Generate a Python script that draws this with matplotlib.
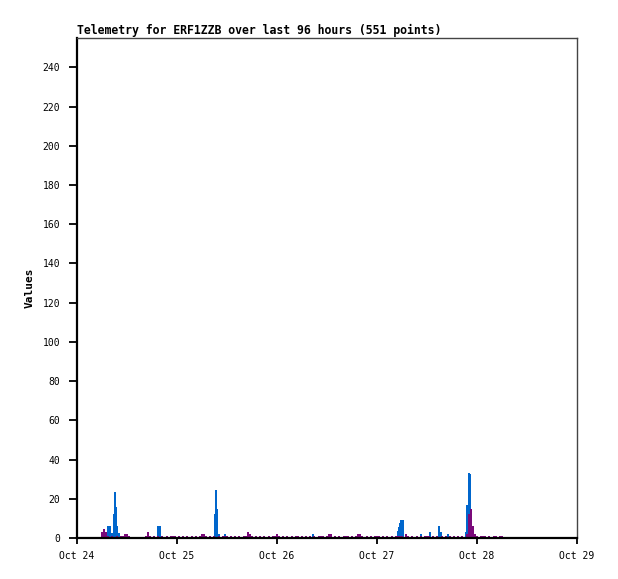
import datetime as dt
import matplotlib
matplotlib.use("Agg")
import matplotlib.pyplot as plt
import matplotlib.dates as mdates

# ---------------- data ----------------
title = "Telemetry for ERF1ZZB over last 96 hours (551 points)"
ylabel = "Values"
start_day = dt.datetime(2024, 10, 24)

# blue series: hours after Oct 24 00:00 and values
blue_hours = [7.44, 7.92, 8.3, 8.88, 9.12, 9.36, 9.72, 10.08, 19.44, 19.92,
              33.12, 33.36, 33.6, 33.96, 35.52, 56.64, 77.04, 77.28, 77.52,
              77.76, 78.12, 82.56, 84.72, 86.88, 87.36, 89.04, 93.36, 93.6,
              93.96, 94.32, 94.6]
blue_vals = [6, 6, 2.5, 12, 23.6, 16, 6, 2.5, 6, 6,
             12, 24.5, 15, 2, 2, 2, 3.5, 5.5, 7.5,
             9, 9, 2, 3, 6, 3, 2, 3, 17,
             33.3, 32.7, 5]

# purple series: half-hourly from Oct 24 06:00
purple_start_hour = 6.0
purple_step_hours = 0.5
purple_vals = [
    3, 4.5, 3, 1, 0, 1, 0, 1, 0, 1, 1, 2, 2, 1, 0, 0, 0, 0, 0, 0, 0, 1, 3, 1,
    0, 1, 0, 1, 0, 1, 0, 1, 0, 1, 1, 1, 0, 1, 0, 1, 0, 1, 0, 1, 0, 1, 0, 1,
    2, 2, 1, 0, 1, 0, 1, 0, 1, 0, 1, 1, 1, 0, 1, 0, 1, 0, 1, 0, 1, 1, 3, 2,
    1, 0, 1, 0, 1, 0, 1, 0, 1, 0, 1, 1, 2, 1, 0, 1, 0, 1, 0, 1, 0, 1, 1, 0,
    1, 0, 1, 0, 1, 0, 1, 0, 1, 1, 1, 0, 1, 2, 2, 0, 1, 0, 1, 0, 1, 1, 1, 0,
    1, 0, 1, 2, 2, 1, 0, 1, 0, 1, 0, 1, 1, 1, 0, 1, 0, 1, 0, 1, 0, 1, 1, 1,
    1, 0, 2, 1, 0, 1, 0, 1, 0, 1, 0, 1, 1, 1, 0, 1, 0, 1, 0, 1, 0, 1, 0, 1,
    0, 1, 0, 1, 0, 1, 0, 2, 12, 15, 6, 2, 1, 0, 1, 1, 1, 0, 1, 0, 1, 1, 0, 1,
    1,
]

yticks = list(range(0, 241, 20))
ymax = 255

# ---------------- plot ----------------
BLUE = "#0066cc"
PURPLE = "#7a0a7a"

fig = plt.figure(figsize=(6.18, 5.79), dpi=100)
ax = fig.add_axes([77 / 618, 41 / 579, 500 / 618, 500 / 579])

base = mdates.date2num(start_day)
bx = [base + h / 24.0 for h in blue_hours]
px = [base + (purple_start_hour + i * purple_step_hours) / 24.0
      for i in range(len(purple_vals))]

bar_w = 0.02
ax.bar(bx, blue_vals, width=bar_w, color=BLUE, linewidth=0,
       antialiased=False, zorder=2)
ax.bar(px, purple_vals, width=bar_w, color=PURPLE, linewidth=0,
       antialiased=False, zorder=3)

ax.set_xlim(base, base + 5)
ax.set_ylim(0, ymax)
ax.set_yticks(yticks)
ax.xaxis.set_major_locator(mdates.DayLocator())
ax.xaxis.set_major_formatter(mdates.DateFormatter("%b %d"))

mono = "DejaVu Sans Mono"
for lab in ax.get_xticklabels() + ax.get_yticklabels():
    lab.set_family(mono)
    lab.set_fontsize(7)

ax.tick_params(axis="y", direction="out", length=6, width=1.3,
               color="black", pad=6)
ax.tick_params(axis="x", direction="out", length=4.5, width=1.3,
               color="black", pad=5)

for side in ("left", "bottom"):
    ax.spines[side].set_color("black")
    ax.spines[side].set_linewidth(1.6)
for side in ("top", "right"):
    ax.spines[side].set_color("#444444")
    ax.spines[side].set_linewidth(1.0)
ax.spines["bottom"].set_zorder(5)

ax.set_title(title, loc="left", fontfamily=mono, fontweight="bold",
             fontsize=8.3, pad=3)
ax.set_ylabel(ylabel, fontfamily=mono, fontweight="bold", fontsize=8,
              labelpad=6)

fig.savefig("out.png", dpi=100)
